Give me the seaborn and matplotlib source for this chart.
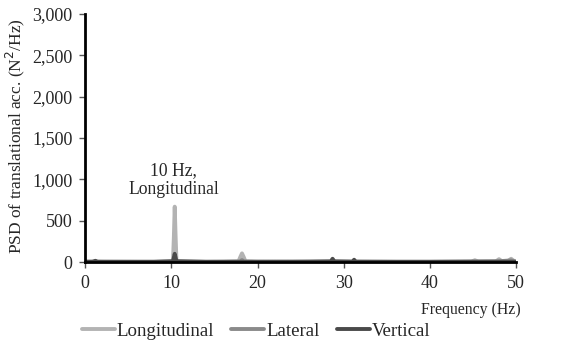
import matplotlib
matplotlib.use("Agg")
import matplotlib.pyplot as plt
import seaborn as sns
import pandas as pd
from matplotlib.lines import Line2D

# Longitudinal
long_f = [0, 0.8, 1.0, 1.2, 1.4, 2.0, 4.0, 6.0, 8.0, 10.0, 10.2, 10.3, 10.4, 10.5, 10.6, 10.8, 12.0, 14.0,
          16.0, 17.8, 18.0, 18.2, 18.4, 18.6, 20.0, 24.0, 28.0, 32.0, 36.0, 40.0, 44.8, 45.2, 45.6,
          47.6, 48.0, 48.4, 49.0, 49.4, 49.8, 50.0]
long_v = [5, 5, 12, 15, 6, 4, 4, 3, 3, 4, 20, 300, 670, 320, 20, 4, 3, 3,
          3, 8, 60, 105, 60, 8, 3, 3, 3, 3, 3, 3, 5, 22, 5,
          5, 35, 5, 8, 40, 8, 5]

# Lateral
lat_f = [0, 1.0, 1.2, 1.4, 4.0, 8.0, 10.2, 10.4, 10.6, 14.0, 18.0, 18.2, 18.4, 24.0, 28.6, 28.8, 29.0,
         32.0, 40.0, 48.0, 49.4, 50.0]
lat_v = [3, 3, 10, 3, 2, 2, 5, 40, 5, 2, 5, 25, 5, 2, 5, 20, 5,
         2, 2, 10, 20, 3]

# Vertical
vert_f = [0, 1.0, 1.2, 1.4, 4.0, 8.0, 10.2, 10.4, 10.6, 14.0, 20.0, 26.0, 28.5, 28.7, 28.9, 31.0, 31.2,
          31.4, 36.0, 42.0, 50.0]
vert_v = [3, 3, 15, 3, 3, 3, 10, 100, 10, 3, 3, 5, 8, 40, 8, 5, 28,
          5, 3, 3, 3]

series_names = ["Longitudinal", "Lateral", "Vertical"]
y_ticks = [0, 500, 1000, 1500, 2000, 2500, 3000]
x_ticks = [0, 10, 20, 30, 40, 50]

df = pd.concat([
    pd.DataFrame({"Frequency": long_f, "PSD": long_v, "Direction": "Longitudinal"}),
    pd.DataFrame({"Frequency": lat_f, "PSD": lat_v, "Direction": "Lateral"}),
    pd.DataFrame({"Frequency": vert_f, "PSD": vert_v, "Direction": "Vertical"}),
])

sns.set_style("white")
plt.rcParams["font.family"] = ["Liberation Serif", "DejaVu Serif"]

fig = plt.figure(figsize=(5.63, 3.43), dpi=100)
ax = fig.add_axes([0.151, 0.236, 0.766, 0.723])

palette = {"Longitudinal": "#b3b3b3", "Lateral": "#8a8a8a", "Vertical": "#4a4a4a"}
sns.lineplot(data=df, x="Frequency", y="PSD", hue="Direction", palette=palette,
             linewidth=2.8, ax=ax, legend=False, sort=False)
ax.axhline(0, color="black", linewidth=2.5, zorder=1)

ax.set_xlim(0, 50)
ax.set_ylim(0, 3000)
ax.set_xticks(x_ticks)
ax.set_yticks(y_ticks)
ax.set_yticklabels([f"{v:,}" for v in y_ticks])
ax.tick_params(axis="both", labelsize=13, length=4, width=1, direction="out",
               bottom=True, left=True, color="#555555", pad=5)
for s in ["top", "right"]:
    ax.spines[s].set_visible(False)
ax.spines["left"].set_color("black")
ax.spines["left"].set_linewidth(2)
ax.spines["bottom"].set_color("black")
ax.spines["bottom"].set_linewidth(2)

ax.set_xlabel("")
ax.set_ylabel("PSD of translational acc. (N$^2$/Hz)", fontsize=12.5)
ax.yaxis.set_label_coords(-0.135, 0.51)
fig.text(0.925, 0.096, "Frequency (Hz)", ha="right", va="center", fontsize=11.3)

ax.text(10.3, 990, "10 Hz,\nLongitudinal", ha="center", va="center", fontsize=12.7,
        linespacing=1.15)

handles = [Line2D([], [], color=palette[k], linewidth=2.8) for k in series_names]
fig.legend(handles, series_names, loc="center",
           bbox_to_anchor=(0.455, 0.035), ncol=3, frameon=False, fontsize=13.6,
           handlelength=1.75, handletextpad=0.1, columnspacing=0.9)

fig.savefig("out.png", dpi=100)
